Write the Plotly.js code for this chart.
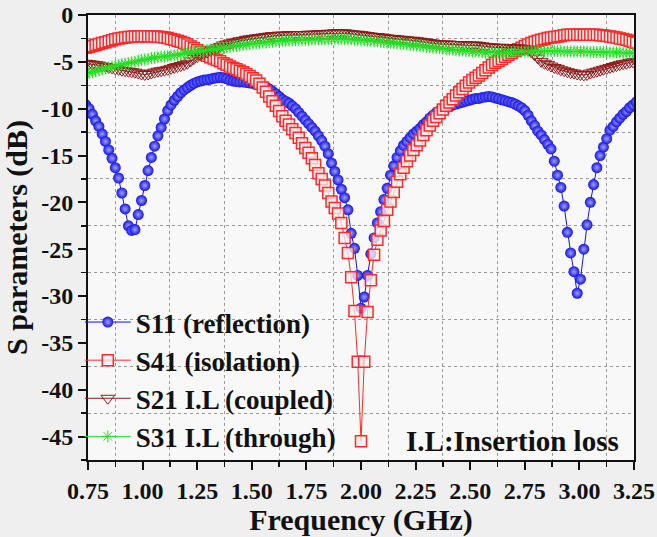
<!DOCTYPE html>
<html>
<head>
<meta charset="utf-8">
<script src="https://cdn.plot.ly/plotly-3.0.1.min.js"></script>
<style>html,body{margin:0;padding:0;background:#efefef;}#chart{width:657px;height:537px;}</style>
</head>
<body>
<div id="chart"></div>
<script>
// Frequency sweep (GHz)
const freq = [
0.740,0.755,0.770,0.785,0.800,0.815,0.830,0.845,0.860,0.875,
0.890,0.905,0.920,0.935,0.950,0.965,0.980,0.995,1.010,1.025,
1.040,1.055,1.070,1.085,1.100,1.115,1.130,1.145,1.160,1.175,
1.190,1.205,1.220,1.235,1.250,1.265,1.280,1.295,1.310,1.325,
1.340,1.355,1.370,1.385,1.400,1.415,1.430,1.445,1.460,1.475,
1.490,1.505,1.520,1.535,1.550,1.565,1.580,1.595,1.610,1.625,
1.640,1.655,1.670,1.685,1.700,1.715,1.730,1.745,1.760,1.775,
1.790,1.805,1.820,1.835,1.850,1.865,1.880,1.895,1.910,1.925,
1.940,1.955,1.970,1.985,2.000,2.015,2.030,2.045,2.060,2.075,
2.090,2.105,2.120,2.135,2.150,2.165,2.180,2.195,2.210,2.225,
2.240,2.255,2.270,2.285,2.300,2.315,2.330,2.345,2.360,2.375,
2.390,2.405,2.420,2.435,2.450,2.465,2.480,2.495,2.510,2.525,
2.540,2.555,2.570,2.585,2.600,2.615,2.630,2.645,2.660,2.675,
2.690,2.705,2.720,2.735,2.750,2.765,2.780,2.795,2.810,2.825,
2.840,2.855,2.870,2.885,2.900,2.915,2.930,2.945,2.960,2.975,
2.990,3.005,3.020,3.035,3.050,3.065,3.080,3.095,3.110,3.125,
3.140,3.155,3.170,3.185,3.200,3.215,3.230,3.245,3.260];

// S11 (reflection), dB
const s11 = [
-9.6,-10.0,-10.6,-11.3,-11.9,-12.7,-13.5,-14.4,-15.3,-16.3,
-17.4,-19.0,-20.7,-22.5,-23.0,-22.9,-21.3,-19.8,-18.2,-16.6,
-15.2,-14.0,-12.9,-12.0,-11.1,-10.2,-9.6,-9.1,-8.7,-8.3,
-8.0,-7.75,-7.5,-7.3,-7.15,-7.05,-6.95,-6.9,-6.85,-6.75,
-6.7,-6.65,-6.7,-6.8,-6.95,-7.05,-7.1,-7.15,-7.15,-7.2,
-7.25,-7.3,-7.35,-7.45,-7.55,-7.7,-7.9,-8.15,-8.4,-8.7,
-9.0,-9.2,-9.4,-9.7,-10.0,-10.4,-10.8,-11.2,-11.6,-12.0,
-12.4,-12.9,-13.4,-14.0,-14.8,-15.8,-16.7,-17.6,-18.6,-19.5,
-20.8,-23.3,-24.9,-27.8,-31.3,-30.1,-27.8,-25.5,-23.8,-22.2,
-21.0,-19.7,-18.5,-17.1,-16.1,-15.2,-14.5,-13.9,-13.5,-13.1,
-12.7,-12.4,-12.1,-11.7,-11.4,-11.0,-10.7,-10.4,-10.2,-10.0,
-9.9,-9.8,-9.6,-9.5,-9.4,-9.3,-9.2,-9.1,-9.0,-8.9,
-8.9,-8.8,-8.75,-8.7,-8.75,-8.85,-8.95,-9.05,-9.15,-9.25,
-9.35,-9.5,-9.7,-9.9,-10.2,-10.7,-11.3,-11.8,-12.4,-12.8,
-13.3,-13.8,-14.3,-15.6,-17.1,-18.4,-20.4,-23.2,-25.4,-27.4,
-29.7,-28.2,-25.0,-22.4,-20.0,-18.1,-16.3,-15.0,-14.1,-13.2,
-12.3,-11.9,-11.4,-11.0,-10.6,-10.3,-9.9,-9.6,-9.3];

// S41 (isolation), dB
const s41 = [
-3.5,-3.4,-3.3,-3.2,-3.1,-3.0,-2.9,-2.8,-2.7,-2.6,
-2.5,-2.45,-2.4,-2.35,-2.32,-2.3,-2.3,-2.28,-2.28,-2.28,
-2.3,-2.3,-2.32,-2.35,-2.4,-2.45,-2.55,-2.65,-2.75,-2.85,
-3.0,-3.15,-3.35,-3.55,-3.75,-3.95,-4.15,-4.35,-4.5,-4.65,
-4.8,-4.95,-5.15,-5.3,-5.5,-5.65,-5.8,-5.95,-6.1,-6.3,
-6.5,-6.75,-7.0,-7.35,-7.75,-8.2,-8.7,-9.2,-9.7,-10.25,
-10.8,-11.3,-11.7,-12.2,-12.6,-13.1,-13.7,-14.2,-14.7,-15.3,
-16.0,-16.9,-17.5,-18.2,-19.0,-19.9,-20.6,-21.2,-22.2,-23.8,
-25.4,-28.0,-31.6,-37.0,-45.5,-37.0,-31.7,-28.3,-25.6,-24.0,
-23.0,-22.0,-20.8,-19.9,-18.9,-17.8,-17.0,-16.3,-15.6,-15.0,
-14.4,-13.9,-13.4,-12.8,-12.3,-11.8,-11.3,-10.9,-10.5,-10.1,
-9.7,-9.35,-9.0,-8.6,-8.25,-7.9,-7.55,-7.2,-6.95,-6.7,
-6.45,-6.2,-5.9,-5.6,-5.35,-5.1,-4.9,-4.7,-4.45,-4.25,
-4.05,-3.85,-3.65,-3.5,-3.3,-3.15,-3.0,-2.85,-2.75,-2.65,
-2.55,-2.45,-2.4,-2.35,-2.3,-2.25,-2.15,-2.1,-2.1,-2.1,
-2.1,-2.1,-2.1,-2.1,-2.1,-2.1,-2.1,-2.15,-2.2,-2.25,
-2.3,-2.35,-2.4,-2.5,-2.55,-2.65,-2.75,-2.85,-2.95];

// S21 I.L (coupled), dB
const s21 = [
-5.15,-5.2,-5.25,-5.3,-5.35,-5.45,-5.5,-5.6,-5.65,-5.75,
-5.8,-5.9,-5.95,-6.0,-6.05,-6.1,-6.2,-6.3,-6.35,-6.3,
-6.2,-6.1,-6.0,-5.95,-5.9,-5.8,-5.7,-5.6,-5.5,-5.4,
-5.3,-5.15,-4.9,-4.65,-4.45,-4.25,-4.1,-3.95,-3.8,-3.65,
-3.5,-3.35,-3.2,-3.1,-3.0,-2.95,-2.85,-2.75,-2.7,-2.6,
-2.55,-2.5,-2.45,-2.4,-2.35,-2.3,-2.25,-2.2,-2.2,-2.15,
-2.15,-2.15,-2.1,-2.1,-2.1,-2.1,-2.1,-2.1,-2.05,-2.05,
-2.05,-2.0,-2.0,-2.0,-1.95,-1.95,-1.9,-1.9,-1.9,-1.9,
-1.95,-2.0,-2.05,-2.05,-2.1,-2.15,-2.2,-2.25,-2.3,-2.3,
-2.35,-2.4,-2.45,-2.5,-2.5,-2.55,-2.6,-2.6,-2.65,-2.7,
-2.7,-2.75,-2.8,-2.85,-2.9,-2.95,-3.0,-3.05,-3.1,-3.1,
-3.1,-3.1,-3.15,-3.15,-3.15,-3.2,-3.2,-3.2,-3.2,-3.2,
-3.25,-3.3,-3.35,-3.4,-3.4,-3.45,-3.45,-3.45,-3.5,-3.5,
-3.5,-3.5,-3.5,-3.55,-3.6,-3.75,-3.95,-4.25,-4.6,-4.95,
-5.15,-5.3,-5.45,-5.6,-5.7,-5.85,-5.95,-6.05,-6.15,-6.2,
-6.3,-6.35,-6.4,-6.35,-6.2,-6.1,-6.0,-5.9,-5.8,-5.7,
-5.6,-5.5,-5.4,-5.3,-5.2,-5.15,-5.05,-5.0,-4.95];

// S31 I.L (through), dB
const s31 = [
-6.25,-6.2,-6.1,-6.0,-5.9,-5.8,-5.7,-5.6,-5.5,-5.45,
-5.35,-5.25,-5.2,-5.15,-5.05,-5.0,-4.9,-4.8,-4.75,-4.7,
-4.6,-4.55,-4.5,-4.45,-4.45,-4.4,-4.35,-4.3,-4.25,-4.2,
-4.1,-4.05,-4.0,-3.95,-3.9,-3.85,-3.8,-3.75,-3.7,-3.65,
-3.6,-3.55,-3.5,-3.45,-3.4,-3.35,-3.3,-3.25,-3.2,-3.15,
-3.1,-3.05,-3.05,-3.0,-2.95,-2.95,-2.9,-2.85,-2.8,-2.8,
-2.75,-2.75,-2.7,-2.7,-2.7,-2.65,-2.65,-2.65,-2.65,-2.6,
-2.6,-2.6,-2.6,-2.6,-2.6,-2.55,-2.55,-2.55,-2.55,-2.55,
-2.6,-2.6,-2.65,-2.65,-2.7,-2.7,-2.75,-2.75,-2.8,-2.8,
-2.85,-2.9,-2.95,-2.95,-3.0,-3.05,-3.1,-3.1,-3.15,-3.2,
-3.25,-3.3,-3.3,-3.35,-3.4,-3.45,-3.5,-3.5,-3.55,-3.6,
-3.65,-3.7,-3.7,-3.75,-3.8,-3.8,-3.85,-3.85,-3.9,-3.9,
-3.95,-3.95,-4.0,-4.0,-4.0,-4.0,-4.0,-4.0,-4.0,-4.0,
-3.95,-3.95,-3.95,-3.9,-3.9,-3.9,-3.9,-3.85,-3.85,-3.85,
-3.85,-3.85,-3.85,-3.85,-3.85,-3.85,-3.9,-3.9,-3.9,-3.9,
-3.9,-3.9,-3.9,-3.9,-3.95,-3.95,-3.95,-3.95,-3.95,-4.0,
-4.0,-4.0,-4.0,-4.0,-4.05,-4.05,-4.05,-4.05,-4.05];

const seriesNames = ['S11 (reflection)', 'S41 (isolation)', 'S21 I.L (coupled)', 'S31 I.L (through)'];
const xTickVals = [0.75,1.00,1.25,1.50,1.75,2.00,2.25,2.50,2.75,3.00,3.25];
const xTickText = ['0.75','1.00','1.25','1.50','1.75','2.00','2.25','2.50','2.75','3.00','3.25'];
const yTickVals = [0,-5,-10,-15,-20,-25,-30,-35,-40,-45];
const yTickText = ['0','-5','-10','-15','-20','-25','-30','-35','-40','-45'];
const noteText = 'I.L:Insertion loss';

const FONT = 'Liberation Serif';
const f = (size) => ({family: FONT, size: size, color: '#111', weight: 'bold'});

const traces = [
  {x: freq, y: s11, name: seriesNames[0], type: 'scatter', mode: 'lines+markers',
   line: {color: '#1414e6', width: 1},
   marker: {symbol: 'circle', size: 11, color: '#1414e6', line: {width: 0},
            gradient: {type: 'radial', color: '#a0a0ff'}}},
  {x: freq, y: s41, name: seriesNames[1], type: 'scatter', mode: 'lines+markers',
   line: {color: '#ff2a2a', width: 1},
   marker: {symbol: 'square', size: 11, color: 'rgba(255,240,240,0.75)',
            line: {color: '#ff2a2a', width: 1.5}}},
  {x: freq, y: s21, name: seriesNames[2], type: 'scatter', mode: 'lines+markers',
   line: {color: '#8e1a1a', width: 1},
   marker: {symbol: 'triangle-down-open', size: 12, color: '#8e1a1a', line: {width: 1}}},
  {x: freq, y: s31, name: seriesNames[3], type: 'scatter', mode: 'lines+markers',
   line: {color: '#22e022', width: 1},
   marker: {symbol: 'asterisk-open', size: 10, color: '#22e022', line: {width: 1, color: '#22e022'}}}
];

const layout = {
  width: 657, height: 537,
  margin: {l: 88, r: 23, t: 15, b: 77},
  paper_bgcolor: '#efefef',
  plot_bgcolor: '#f8f8f8',
  font: f(24),
  showlegend: true,
  legend: {x: -0.015, y: 0.364, xanchor: 'left', yanchor: 'top',
           bgcolor: 'rgba(0,0,0,0)', borderwidth: 0,
           font: f(27), itemwidth: 46, tracegroupgap: 0},
  xaxis: {
    range: [0.75, 3.25], tickmode: 'array', tickvals: xTickVals, ticktext: xTickText,
    showline: true, linecolor: '#111', linewidth: 2, mirror: true,
    ticks: 'outside', ticklen: 8, tickwidth: 2, tickcolor: '#111',
    showgrid: false, zeroline: false,
    tickfont: f(24),
    minor: {tickmode: 'linear', tick0: 0.875, dtick: 0.25, ticks: 'outside', ticklen: 5,
            tickwidth: 1.5, tickcolor: '#111', showgrid: true, gridcolor: '#9a9a9a',
            griddash: 'dot', gridwidth: 1},
    title: {text: 'Frequency (GHz)', standoff: 2, font: f(30)}
  },
  yaxis: {
    range: [-47.5, 0], tickmode: 'array', tickvals: yTickVals, ticktext: yTickText,
    showline: true, linecolor: '#111', linewidth: 2, mirror: true,
    ticks: 'outside', ticklen: 8, tickwidth: 2, tickcolor: '#111',
    showgrid: false, zeroline: false,
    tickfont: f(24),
    minor: {tickmode: 'linear', tick0: -2.5, dtick: 5, ticks: 'outside', ticklen: 5,
            tickwidth: 1.5, tickcolor: '#111', showgrid: true, gridcolor: '#9a9a9a',
            griddash: 'dot', gridwidth: 1},
    title: {text: 'S parameters (dB)', standoff: 6, font: f(30)}
  },
  annotations: [{
    text: noteText, xref: 'paper', yref: 'paper', x: 0.7766, y: 0.043,
    xanchor: 'center', yanchor: 'middle', showarrow: false,
    font: f(29)
  }]
};

Plotly.newPlot('chart', traces, layout, {displayModeBar: false, staticPlot: true});
</script>
</body>
</html>
